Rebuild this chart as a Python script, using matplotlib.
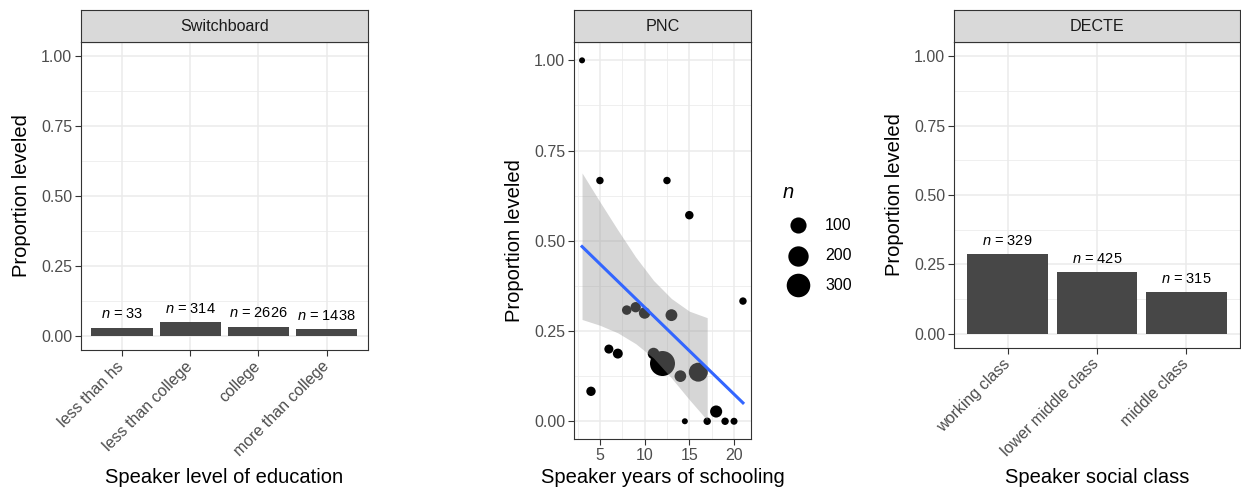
import matplotlib
matplotlib.use("Agg")
import matplotlib.pyplot as plt
import matplotlib.transforms as mtransforms
import numpy as np
from matplotlib.ticker import FixedLocator

plt.rcParams['font.family'] = ['Liberation Sans', 'DejaVu Sans']
plt.rcParams['mathtext.fontset'] = 'custom'
plt.rcParams['mathtext.it'] = 'Liberation Sans:italic'
plt.rcParams['mathtext.rm'] = 'Liberation Sans'

# === Data ===
swb_levels = ["less than hs", "less than college", "college", "more than college"]
swb_prop = [0.030, 0.051, 0.034, 0.024]
swb_n = [33, 314, 2626, 1438]

pnc_years = [3, 4, 5, 6, 7, 8, 9, 10, 11, 12, 12.5, 13, 14, 14.5, 15, 16, 17, 18, 19, 20, 21]
pnc_prop = [1.0, 0.083, 0.667, 0.2, 0.1875, 0.308, 0.316, 0.3, 0.1875, 0.16, 0.667,
            0.294, 0.125, 0.0, 0.571, 0.136, 0.0, 0.027, 0.0, 0.0, 0.333]
pnc_n = [1, 12, 3, 10, 16, 13, 19, 30, 32, 350, 3, 34, 32, 1, 7, 163, 3, 37, 3, 2, 3]

# linear fit and its confidence band
fit_x = [3, 21]
fit_y = [0.484, 0.051]
band_x = [3, 5, 7, 9, 11, 13, 15, 17]
band_hi = [0.688, 0.608, 0.530, 0.455, 0.390, 0.340, 0.305, 0.287]
band_lo = [0.282, 0.266, 0.245, 0.215, 0.175, 0.120, 0.060, 0.003]

legend_n = [100, 200, 300]

decte_levels = ["working class", "lower middle class", "middle class"]
decte_prop = [0.289, 0.224, 0.152]
decte_n = [329, 425, 315]

# === Style ===
W, H = 1241, 490
BAR = '#474747'
GRID = '#ebebeb'
EDGE = '#333333'
TICKC = '#4d4d4d'

fig = plt.figure(figsize=(W / 100, H / 100), dpi=100)


def px_axes(x0, y0, x1, y1):
    return fig.add_axes([x0 / W, 1 - y1 / H, (x1 - x0) / W, (y1 - y0) / H])


def point_area(n):
    # diameter grows with sqrt(n), like an area scale
    n = np.asarray(n, dtype=float)
    lo, hi = min(pnc_n), max(pnc_n)
    d_px = 6 + 19 * np.sqrt((n - lo) / (hi - lo))
    return (d_px * 0.72) ** 2


def panel(x0, x1, bottom, strip_label):
    ax = px_axes(x0, 42.3, x1, bottom)
    for s in ax.spines.values():
        s.set_color(EDGE)
        s.set_linewidth(0.8)
    ax.set_ylim(-0.05, 1.05)
    ax.set_yticks([0, 0.25, 0.5, 0.75, 1.0])
    ax.set_yticklabels(["0.00", "0.25", "0.50", "0.75", "1.00"])
    ax.yaxis.set_minor_locator(FixedLocator([0.125, 0.375, 0.625, 0.875]))
    ax.grid(which='major', color=GRID, lw=1.1)
    ax.grid(which='minor', color=GRID, lw=0.55)
    ax.set_axisbelow(True)
    ax.tick_params(which='major', length=4.3, width=0.8, color=EDGE,
                   labelsize=11.5, labelcolor=TICKC, pad=2)
    ax.tick_params(which='minor', length=0)

    strip = px_axes(x0, 10, x1, 42.3)
    strip.set_facecolor('#d9d9d9')
    strip.set_xticks([])
    strip.set_yticks([])
    for s in strip.spines.values():
        s.set_color(EDGE)
        s.set_linewidth(0.8)
    strip.text(0.5, 0.5, strip_label, ha='center', va='center',
               fontsize=11.6, color='#1a1a1a', transform=strip.transAxes)
    return ax


def bar_panel(ax, levels, props, ns):
    xs = np.arange(1, len(levels) + 1)
    ax.bar(xs, props, width=0.9, color=BAR, zorder=2)
    for x, p, n in zip(xs, props, ns):
        ax.text(x, p + 0.047, r"$n$ = %d" % n, ha='center', va='center',
                fontsize=10.5, color='black')
    ax.set_xlim(0.4, len(levels) + 0.6)
    ax.set_xticks(xs)
    ax.set_xticklabels(levels, rotation=45, ha='right')
    # nudge the slanted labels so their ends sit just right of the ticks
    shift = mtransforms.ScaledTranslation(5 / 100, 0, fig.dpi_scale_trans)
    for lbl in ax.get_xticklabels():
        lbl.set_transform(lbl.get_transform() + shift)


# === Switchboard ===
ax1 = panel(81, 367.7, 350, "Switchboard")
bar_panel(ax1, swb_levels, swb_prop, swb_n)

# === PNC ===
ax2 = panel(574, 751, 439.3, "PNC")
ax2.scatter(pnc_years, pnc_prop, s=point_area(pnc_n), color='black',
            linewidths=0, zorder=2)
ax2.fill_between(band_x, band_lo, band_hi, color='#999999', alpha=0.4,
                 linewidth=0, zorder=3)
ax2.plot(fit_x, fit_y, color='#3366FF', lw=2.2, zorder=4)
ax2.set_xlim(2.1, 21.9)
ax2.set_xticks([5, 10, 15, 20])
ax2.xaxis.set_minor_locator(FixedLocator([2.5, 7.5, 12.5, 17.5]))

# size legend
leg = px_axes(770, 170, 870, 300)
leg.set_xlim(770, 870)
leg.set_ylim(300, 170)
leg.axis('off')
leg.text(788, 192, r"$n$", ha='center', va='center', fontsize=14.5)
for v, y in zip(legend_n, [225, 256, 285]):
    leg.scatter([798], [y], s=point_area([v]), color='black', linewidths=0, clip_on=False)
    leg.text(825, y, str(v), ha='left', va='center', fontsize=11.5, color='black')

# === DECTE ===
ax3 = panel(954, 1240, 347.7, "DECTE")
bar_panel(ax3, decte_levels, decte_prop, decte_n)

# === Axis titles ===
for xc, yc in [(21.7, 196), (515, 240.8), (895, 195)]:
    fig.text(xc / W, 1 - yc / H, "Proportion leveled", rotation=90,
             ha='center', va='center', fontsize=14.5)
for xc, label in [(224.4, "Speaker level of education"),
                  (662.5, "Speaker years of schooling"),
                  (1097, "Speaker social class")]:
    fig.text(xc / W, 1 - 483 / H, label, ha='center', va='baseline', fontsize=14.5)

fig.savefig("out.png", dpi=100, facecolor='white')
